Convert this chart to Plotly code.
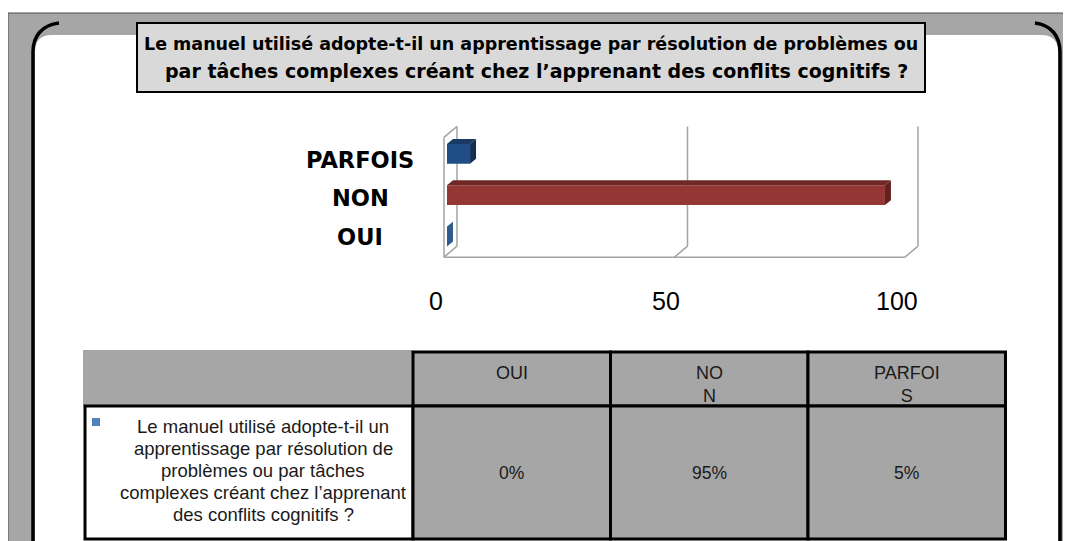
import plotly.graph_objects as go

# ---------------- data ----------------
categories = ["OUI", "NON", "PARFOIS"]
values = [0, 95, 5]
x_ticks = [0, 50, 100]
header_labels = ["OUI", "NO<br>N", "PARFOI<br>S"]
value_labels = ["0%", "95%", "5%"]
row_label_lines = [
    "Le manuel utilisé adopte-t-il un",
    "apprentissage par résolution de",
    "problèmes ou par tâches",
    "complexes créant chez l\u2019apprenant",
    "des conflits cognitifs ?",
]
title_lines = [
    "Le manuel utilisé adopte-t-il un apprentissage par résolution de problèmes ou",
    "par tâches complexes créant chez l\u2019apprenant des conflits cognitifs ?",
]

# ---------------- styling ----------------
W, H = 1071, 541
OFF = 8  # page body margin compensation
FONT = "Liberation Sans, Arial, sans-serif"
BFONT = "DejaVu Sans, Liberation Sans, Arial, sans-serif"
GRAY = "#a6a6a6"
front_colors = ["#2c5587", "#943634", "#214d86"]
top_colors = ["#1e3f6b", "#6f2826", "#183a64"]
side_colors = ["#2f5b8f", "#63221f", "#142f53"]


def px(x):
    return (x - OFF) / W


def py(y):
    return 1 - (y - OFF) / H


# axis pixel mapping (screen px): x: 0->444, 100->905 ; y: index 0 -> 236.5, step 41.3
X0, XS = 444, 4.61
Y0, YS = 236.5, 41.3
XR = [-1, 104]
YR = [-0.55, 2.75]
x_dom = [px(X0 + XS * XR[0]), px(X0 + XS * XR[1])]
y_dom = [py(Y0 - YS * YR[0]), py(Y0 - YS * YR[1])]

BASE = 0.65   # bar front face start offset
HALF = 0.24   # half bar thickness
DXB, DYB = 1.3, 0.12   # bar depth
DXW, DYW = 2.82, 0.266  # wall depth
WALL_TOP = 2.4

fig = go.Figure()

# front faces
fig.add_trace(go.Bar(
    y=list(range(len(categories))), x=values, base=BASE, orientation="h",
    width=2 * HALF, marker=dict(color=front_colors, line=dict(width=0)),
    hoverinfo="skip", showlegend=False,
))

# top and side faces
for i, v in enumerate(values):
    xs_top = [BASE, BASE + v, BASE + v + DXB, BASE + DXB, BASE]
    ys_top = [i + HALF, i + HALF, i + HALF + DYB, i + HALF + DYB, i + HALF]
    fig.add_trace(go.Scatter(x=xs_top, y=ys_top, fill="toself", mode="lines",
                             line=dict(width=0), fillcolor=top_colors[i],
                             hoverinfo="skip", showlegend=False))
    xs_side = [BASE + v, BASE + v, BASE + v + DXB, BASE + v + DXB, BASE + v]
    ys_side = [i - HALF, i + HALF, i + HALF + DYB, i - HALF + DYB, i - HALF]
    fig.add_trace(go.Scatter(x=xs_side, y=ys_side, fill="toself", mode="lines",
                             line=dict(width=0), fillcolor=side_colors[i],
                             hoverinfo="skip", showlegend=False))

shapes = []
# gray outer frame and white panel
shapes.append(dict(type="rect", xref="paper", yref="paper", x0=px(8), y0=py(13), x1=px(1090), y1=py(570),
                   fillcolor=GRAY, line=dict(color="#4d4d4d", width=1), layer="below"))


def path_paper(cmds):
    out = []
    for c in cmds:
        if isinstance(c, str):
            out.append(c)
        else:
            out.append(f"{px(c[0]):.5f},{py(c[1]):.5f}")
    return " ".join(out)


panel = path_paper(["M", (35, 570), "L", (35, 52), "Q", (35, 35), (52, 35), "L", (1041, 35),
                    "Q", (1058, 35), (1058, 52), "L", (1058, 570), "Z"])
shapes.append(dict(type="path", xref="paper", yref="paper", path=panel, fillcolor="white",
                   line=dict(width=0), layer="below"))
left_br = path_paper(["M", (33, 570), "L", (33, 52), "C", (33, 36), (42, 25), (59, 23)])
right_br = path_paper(["M", (1060, 570), "L", (1060, 52), "C", (1060, 36), (1051, 25), (1035, 23)])
for p in (left_br, right_br):
    shapes.append(dict(type="path", xref="paper", yref="paper", path=p,
                       line=dict(color="black", width=3.5), layer="below"))

# title box
shapes.append(dict(type="rect", xref="paper", yref="paper", x0=px(137), y0=py(23), x1=px(925), y1=py(92),
                   fillcolor="#d9d9d9", line=dict(color="black", width=2), layer="above"))

# 3D walls / gridlines
gl = dict(color="#a3a3a3", width=1.5)


def seg(x0, y0, x1, y1):
    shapes.append(dict(type="line", xref="x", yref="y", x0=x0, y0=y0, x1=x1, y1=y1, line=gl, layer="below"))


y_floor = YR[0] + 0.05
seg(x_ticks[0], y_floor, x_ticks[-1], y_floor)
seg(x_ticks[0], y_floor, x_ticks[0], WALL_TOP)
seg(x_ticks[0], WALL_TOP, x_ticks[0] + DXW, WALL_TOP + DYW)
for t in x_ticks:
    seg(t, y_floor, t + DXW, y_floor + DYW)
    seg(t + DXW, y_floor + DYW, t + DXW, WALL_TOP + DYW)

# table
col_left = 413
col_w = 197.5
t_top, t_mid, t_bot = 352, 406, 539
tab_left = 85
shapes.append(dict(type="rect", xref="paper", yref="paper", x0=px(83), y0=py(350), x1=px(col_left), y1=py(t_mid),
                   fillcolor=GRAY, line=dict(width=0), layer="above"))
shapes.append(dict(type="rect", xref="paper", yref="paper", x0=px(tab_left), y0=py(t_mid), x1=px(col_left), y1=py(t_bot),
                   fillcolor="white", line=dict(color="black", width=3), layer="above"))
for k in range(len(categories)):
    xa, xb = col_left + k * col_w, col_left + (k + 1) * col_w
    for (ya, yb) in ((t_top, t_mid), (t_mid, t_bot)):
        shapes.append(dict(type="rect", xref="paper", yref="paper", x0=px(xa), y0=py(ya), x1=px(xb), y1=py(yb),
                           fillcolor=GRAY, line=dict(color="black", width=3), layer="above"))
# legend marker
shapes.append(dict(type="rect", xref="paper", yref="paper", x0=px(92), y0=py(418), x1=px(100), y1=py(426),
                   fillcolor="#4f81bd", line=dict(width=0), layer="above"))

annotations = []
# title
title_sizes = [17.5, 19]
title_y = [44, 71]
title_x = [531, 536]
for j, line in enumerate(title_lines):
    annotations.append(dict(text=f"<b>{line}</b>", xref="paper", yref="paper", x=px(title_x[j]), y=py(title_y[j]),
                            xanchor="center", yanchor="middle", showarrow=False,
                            font=dict(family=BFONT, size=title_sizes[j], color="black")))
# category labels
for i, c in enumerate(categories):
    annotations.append(dict(text=f"<b>{c}</b>", xref="paper", yref="paper", x=px(360), y=py(236.5 - 38.5 * i),
                            xanchor="center", yanchor="middle", showarrow=False,
                            font=dict(family=BFONT, size=22.5, color="black")))
# x tick labels
for t in x_ticks:
    annotations.append(dict(text=str(t), xref="x", yref="paper", x=t, y=py(301), xshift=-8.5,
                            xanchor="center", yanchor="middle", showarrow=False,
                            font=dict(family=FONT, size=25, color="black")))
# table header & values
for k in range(len(categories)):
    cx = col_left + (k + 0.5) * col_w
    annotations.append(dict(text=header_labels[k], xref="paper", yref="paper", x=px(cx), y=py(361),
                            xanchor="center", yanchor="top", showarrow=False, align="center",
                            font=dict(family=FONT, size=18, color="#1a1a1a")))
    annotations.append(dict(text=value_labels[k], xref="paper", yref="paper", x=px(cx), y=py(473),
                            xanchor="center", yanchor="middle", showarrow=False,
                            font=dict(family=FONT, size=17.5, color="#1a1a1a")))
# row label
for j, line in enumerate(row_label_lines):
    annotations.append(dict(text=line, xref="paper", yref="paper", x=px(263), y=py(426 + 22 * j),
                            xanchor="center", yanchor="middle", showarrow=False,
                            font=dict(family=FONT, size=18.5, color="#1a1a1a")))

fig.update_layout(
    width=W, height=H, margin=dict(l=0, r=0, t=0, b=0),
    paper_bgcolor="white", plot_bgcolor="rgba(0,0,0,0)",
    shapes=shapes, annotations=annotations, showlegend=False,
    xaxis=dict(domain=x_dom, range=XR, showgrid=False, zeroline=False, showline=False,
               showticklabels=False, ticks="", fixedrange=True),
    yaxis=dict(domain=y_dom, range=YR, showgrid=False, zeroline=False, showline=False,
               showticklabels=False, ticks="", fixedrange=True),
)

fig.write_html("out.html")
